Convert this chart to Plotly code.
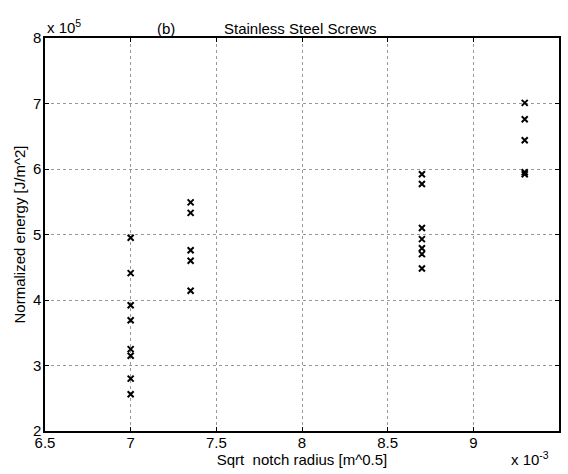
import plotly.graph_objects as go

# x values in units of 1e-3 (sqrt notch radius), y in units of 1e5 (J/m^2)
x_group1 = [7.0] * 8
y_group1 = [4.95, 4.41, 3.92, 3.69, 3.25, 3.15, 2.80, 2.56]
x_group2 = [7.35] * 5
y_group2 = [5.49, 5.33, 4.76, 4.60, 4.14]
x_group3 = [8.7] * 7
y_group3 = [5.92, 5.77, 5.10, 4.93, 4.79, 4.70, 4.48]
x_group4 = [9.3] * 5
y_group4 = [7.01, 6.76, 6.44, 5.95, 5.92]

x_ticks = [6.5, 7, 7.5, 8, 8.5, 9]
y_ticks = [2, 3, 4, 5, 6, 7, 8]

xs = x_group1 + x_group2 + x_group3 + x_group4
ys = y_group1 + y_group2 + y_group3 + y_group4

FONT = "Liberation Sans, Arial, Helvetica, sans-serif"
FS = 15

fig = go.Figure()
fig.add_trace(go.Scatter(
    x=xs, y=ys, mode="markers",
    marker=dict(symbol="x-thin", size=6, line=dict(color="black", width=2), color="black"),
    showlegend=False,
))

axis_common = dict(
    showline=True, linecolor="black", linewidth=1.5, mirror="ticks",
    ticks="inside", ticklen=4, tickcolor="black",
    showgrid=True, gridcolor="#999", gridwidth=1, griddash="dot",
    zeroline=False, automargin=False,
    tickfont=dict(family=FONT, size=FS, color="black"),
)

fig.update_layout(
    width=568, height=474,
    margin=dict(l=45, r=9, t=38, b=43),
    paper_bgcolor="white", plot_bgcolor="white",
    font=dict(family=FONT, size=FS, color="black"),
    xaxis=dict(range=[6.5, 9.5], tickvals=x_ticks, ticktext=[str(v) for v in x_ticks],
               ticklabelstandoff=-3,
               title=dict(text="Sqrt  notch radius [m^0.5]", standoff=0,
                          font=dict(family=FONT, size=FS)),
               **axis_common),
    yaxis=dict(range=[2, 8], tickvals=y_ticks, ticktext=[str(v) for v in y_ticks],
               ticklabelstandoff=-1,
               title=dict(text="Normalized energy [J/m^2]", standoff=4,
                          font=dict(family=FONT, size=FS)),
               **axis_common),
    annotations=[
        dict(text="(b)", xref="paper", yref="paper", x=0.214, y=1.051,
             showarrow=False, font=dict(family=FONT, size=FS)),
        dict(text="Stainless Steel Screws", xref="paper", yref="paper", x=0.498, y=1.051,
             showarrow=False, font=dict(family=FONT, size=FS)),
        dict(text="x 10<sup>5</sup>", xref="paper", yref="paper", x=0.0, y=1.0,
             xanchor="left", yanchor="bottom", showarrow=False, font=dict(family=FONT, size=FS)),
        dict(text="x 10<sup>-3</sup>", xref="paper", yref="paper", x=0.985, y=-0.099,
             xanchor="right", yanchor="bottom", showarrow=False, font=dict(family=FONT, size=FS)),
    ],
)

fig.write_html("out.html", config={"displayModeBar": False},
               post_script="document.body.style.margin='0';")
